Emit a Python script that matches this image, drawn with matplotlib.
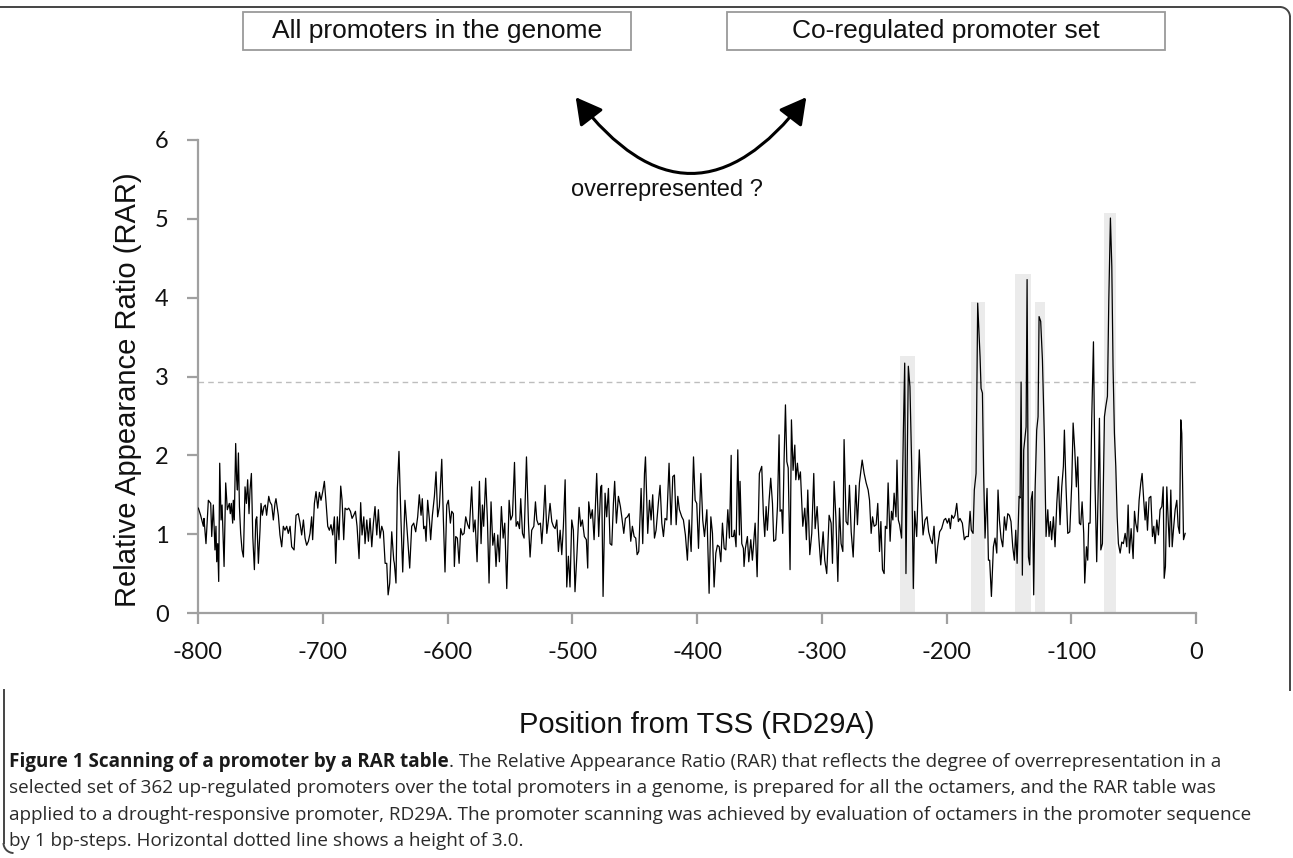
import matplotlib
matplotlib.use('Agg')
import matplotlib.pyplot as plt
from matplotlib.patches import FancyArrowPatch, Rectangle, Arc
from matplotlib.lines import Line2D

# ---------------- data ----------------
positions = [
    -799.7, -797.9, -795.7, -795.2, -793.6, -791.7, -789.8, -789.0, -787.7, -786.4,
    -785.6, -785.0, -784.2, -783.4, -782.6, -781.5, -780.7, -779.1, -777.8, -776.5,
    -774.9, -774.1, -773.3, -772.2, -771.7, -770.9, -769.8, -769.0, -768.4, -767.6,
    -766.8, -765.8, -764.7, -763.6, -762.3, -761.2, -760.2, -759.1, -758.3, -757.2,
    -756.1, -754.8, -753.7, -752.9, -751.6, -750.3, -749.5, -748.4, -747.1, -746.0,
    -745.0, -743.3, -742.3,
    -740.9, -739.6, -738.3, -737.5, -735.6, -734.3, -732.9, -731.6, -730.3, -728.9,
    -727.6, -726.2, -724.9, -723.0, -721.4, -719.6, -718.2, -716.9, -715.5, -714.2,
    -712.9, -711.5, -710.2, -708.9, -708.1, -706.7, -705.4, -704.0, -702.7, -701.4,
    -700.0, -698.7, -697.4, -696.0, -694.7, -693.4, -692.0, -690.7, -689.6, -688.3,
    -687.0, -685.6, -684.5, -683.2, -682.1, -680.5, -679.2, -677.8, -676.5, -675.2,
    -673.8, -672.5, -670.9, -669.6, -668.5, -667.1, -666.1, -664.7, -663.4, -662.1,
    -660.7, -659.4, -658.1, -656.7, -655.4, -654.1, -652.7, -651.4, -650.0, -648.7,
    -647.6, -646.3, -644.7, -643.1,
    -642.6, -641.3, -640.2, -638.9, -637.3, -635.9, -634.1, -632.2, -630.3, -628.7,
    -627.1, -625.5, -623.9, -622.6, -621.2, -620.2, -619.1, -618.0, -617.2, -615.9,
    -614.5, -613.5, -612.1, -610.5, -609.2, -607.9, -606.5, -604.6, -603.3, -602.0,
    -600.6, -599.3, -597.7, -596.6, -595.3, -594.5, -593.4, -592.1, -590.7, -589.4,
    -588.1, -586.7, -585.4, -583.8, -582.5, -580.6, -579.2, -577.9, -576.3, -574.4,
    -573.1, -572.0, -571.0, -569.4, -568.0, -566.7, -565.1, -563.7, -562.4, -561.1,
    -559.7, -558.4, -556.8, -555.4, -554.1, -552.5, -550.6, -549.3, -547.9, -546.3,
    -545.0, -543.7, -542.3, -541.3, -539.9, -538.6, -536.7, -535.1, -533.8, -532.5,
    -530.8, -529.5, -528.4, -527.1, -525.5, -524.4, -523.1, -521.8, -520.4, -519.1,
    -517.8, -516.4, -515.1, -513.7, -512.4, -511.1, -509.7, -508.4, -507.1, -505.7,
    -504.4, -503.1, -501.8, -500.4, -499.1, -497.8, -496.2, -494.5, -493.2, -491.9,
    -490.3, -488.7, -487.6, -486.8, -485.2, -483.9, -482.5, -480.4, -478.8, -477.2,
    -476.4, -475.3, -473.7, -472.4, -471.0, -469.7, -468.3, -467.0, -466.0, -464.6,
    -463.0, -461.4, -460.3, -458.7, -457.4, -455.8, -454.4, -453.1, -451.8, -450.4,
    -449.1, -448.0, -446.7, -444.8, -443.5, -442.1, -441.3, -439.5, -438.1, -436.8,
    -435.5, -434.1, -432.8, -430.9, -429.6, -428.2, -426.9, -425.6, -424.2, -422.4,
    -420.8, -419.4, -418.1, -416.7, -415.4, -414.1, -412.2, -410.9, -409.3, -407.7,
    -406.3, -404.7, -402.8, -401.5, -400.2, -398.8, -396.9, -395.4, -394.0, -392.1,
    -390.3, -388.9, -387.6, -386.3, -384.9, -383.6, -382.2, -380.9, -379.6, -378.2,
    -376.9, -375.3, -374.0, -372.6,
    -372.2, -370.8, -370.0, -368.7, -367.3, -366.0, -365.5, -364.1, -362.8, -362.3,
    -361.2, -359.6, -358.5, -356.9, -355.6, -353.4, -351.8, -350.0, -348.1, -346.8,
    -345.7, -344.6, -343.6, -342.2, -340.9, -339.5, -338.5, -336.9, -335.5, -334.2,
    -333.4, -332.1, -331.3, -330.2, -329.1, -328.0, -326.9, -325.4, -324.3, -323.0,
    -321.6, -320.8, -319.5, -318.4, -317.1, -316.3, -315.2, -313.6, -312.3, -311.2,
    -309.6, -308.0, -306.4, -305.3, -303.7, -302.4, -300.8, -298.9, -297.6, -296.0,
    -294.1, -292.5, -291.4, -290.1, -288.7, -287.1, -285.8, -284.5, -283.1, -282.1,
    -280.5, -279.1, -277.8, -276.4, -274.8, -272.7, -271.4, -269.8, -267.6, -266.0,
    -264.4, -262.8, -261.7, -260.4, -259.3, -258.0, -256.4, -255.1, -253.7, -252.6,
    -251.3, -250.0, -249.0, -247.8, -246.8, -245.2, -244.1, -243.0, -242.0,
    -240.5, -239.7, -238.6, -237.6, -236.0, -234.6, -233.5, -232.5, -230.6, -229.3,
    -227.9, -226.6, -225.5, -223.9, -221.8, -220.4, -218.8, -217.2, -215.6, -214.3,
    -212.7, -211.4, -210.0, -208.4, -207.1, -205.5, -203.9, -202.0, -200.7, -199.3,
    -198.0, -196.9, -195.8, -194.5, -193.2, -191.8, -190.5, -189.2, -187.3, -185.7,
    -184.3, -182.5, -181.1, -180.1, -178.7, -177.7, -176.3, -175.0, -173.1, -172.3,
    -171.2, -170.2, -169.1, -167.5, -166.4, -165.4, -164.0, -162.4, -161.1, -159.7,
    -158.7, -157.6, -156.3, -154.9, -153.6, -152.3, -150.9, -149.6, -148.3, -146.9,
    -145.6, -144.5, -143.4, -141.8, -141.0, -140.2, -139.2, -138.1, -137.0, -136.2,
    -135.4, -134.3, -133.3, -132.2, -131.1, -130.1, -129.0, -127.7, -126.6, -125.8,
    -124.5, -123.1, -121.5, -120.2, -118.8, -117.8,
    -116.7, -115.7, -114.3, -113.0, -111.6, -110.3, -109.0, -107.6, -106.3, -105.5,
    -104.2, -102.8, -101.2, -99.6, -98.5, -97.2, -95.9, -94.8, -93.5, -92.4,
    -91.3, -90.0, -89.2, -87.8, -86.8, -86.0, -84.9, -83.6, -82.2, -80.9,
    -79.6, -78.2, -77.4, -76.3, -75.0, -73.4, -72.3, -71.0, -69.9, -68.6,
    -67.5, -66.5, -65.4, -64.3, -63.2, -62.2, -60.8, -59.5, -58.2, -56.8,
    -55.5, -54.4, -53.4, -52.0, -50.4, -49.3, -48.3, -46.9, -45.6, -44.3,
    -43.2, -41.9, -40.8, -40.0, -38.9, -37.6, -36.2, -34.9, -33.8, -32.8,
    -31.4, -30.1, -28.8, -27.4, -26.3, -25.5, -24.5, -23.4, -22.3, -21.3,
    -20.2, -19.1, -18.1, -16.7, -15.4, -14.3, -13.2, -12.2, -11.4, -10.0,
    -8.7,
]

rar_values = [
    1.33, 1.24, 1.10, 1.20, 0.88, 1.43, 1.39, 0.97, 1.37, 0.80,
    1.10, 0.65, 0.88, 0.40, 1.90, 1.18, 1.37, 0.59, 1.65, 1.31,
    1.39, 1.26, 1.39, 1.14, 1.43, 1.18, 2.15, 1.69, 1.56, 2.03,
    1.35, 1.01, 0.80, 0.71, 1.60, 1.39, 1.69, 1.26, 1.56, 1.77,
    0.97, 0.55, 1.18, 1.22, 0.63, 1.05, 1.39, 1.24, 1.35, 1.37,
    1.24, 1.48, 1.41,
    1.37, 1.18, 1.39, 1.45, 1.24, 0.99, 0.84, 1.10, 1.05, 1.10,
    1.01, 1.10, 0.84, 0.80, 1.24, 1.26, 1.14, 0.99, 1.18, 0.95,
    0.86, 0.91, 1.01, 1.22, 0.93, 1.39, 1.54, 1.33, 1.53, 1.43,
    1.54, 1.67, 1.41, 1.10, 1.05, 1.12, 0.99, 1.22, 0.63, 1.22,
    0.93, 1.61, 1.43, 0.93, 1.33, 1.31, 1.33, 1.29, 1.20, 1.24,
    1.29, 1.10, 0.69, 1.40, 0.99, 1.22, 0.88, 1.18, 0.91, 1.20,
    0.84, 1.14, 1.35, 0.99, 1.31, 0.95, 1.10, 1.03, 0.63, 0.63,
    0.23, 0.38, 1.03, 0.67,
    0.63, 0.38, 1.58, 2.05, 1.18, 0.52, 1.43, 1.01, 0.57, 1.10,
    1.14, 1.03, 1.22, 1.50, 1.24, 1.45, 1.07, 1.10, 0.91, 1.43,
    1.18, 0.93, 1.24, 1.48, 1.79, 1.22, 1.35, 1.95, 1.18, 0.52,
    1.37, 1.43, 1.14, 1.29, 1.26, 0.59, 0.97, 0.95, 0.63, 1.07,
    0.99, 1.01, 1.22, 1.12, 1.07, 1.60, 1.03, 1.18, 0.65, 1.67,
    0.88, 1.37, 1.10, 1.71, 1.18, 0.38, 1.41, 0.86, 1.01, 0.59,
    0.99, 0.65, 1.35, 0.95, 1.14, 0.31, 1.43, 1.18, 1.24, 1.91,
    1.10, 1.16, 1.07, 1.45, 1.01, 0.95, 1.98, 1.14, 0.71, 1.05,
    1.10, 1.41, 1.18, 1.12, 1.14, 0.88, 1.20, 1.62, 1.01, 1.18,
    1.39, 1.16, 1.10, 1.07, 1.18, 0.78, 1.05, 0.74, 1.10, 1.69,
    0.33, 0.72, 0.33, 1.18, 1.05, 0.27, 0.76, 1.34, 1.10, 1.18,
    0.97, 0.93, 0.57, 1.41, 1.20, 1.31, 0.93, 1.77, 0.97, 1.60,
    1.62, 0.21, 1.52, 1.22, 1.58, 0.88, 0.86, 1.39, 1.67, 1.14,
    1.48, 1.35, 1.22, 1.01, 1.20, 1.22, 1.26, 0.91, 1.10, 0.97,
    0.95, 0.74, 0.78, 1.58, 0.88, 1.77, 1.98, 1.01, 1.43, 1.18,
    1.50, 0.95, 1.05, 1.41, 1.62, 1.14, 0.97, 1.20, 1.18, 1.90,
    1.12, 1.73, 1.75, 1.12, 1.48, 1.31, 1.22, 1.18, 0.99, 0.67,
    1.18, 0.78, 1.98, 1.43, 1.39, 0.82, 1.77, 1.18, 0.97, 1.31,
    0.25, 1.22, 1.01, 0.33, 0.76, 0.86, 0.84, 0.65, 1.14, 0.82,
    0.80, 1.31, 0.95, 2.00,
    0.97, 0.97, 1.05, 0.84, 2.07, 0.99, 1.67, 0.88, 0.82, 0.59,
    0.82, 0.97, 0.65, 0.93, 0.67, 1.14, 0.46, 1.77, 1.86, 1.26,
    0.97, 1.35, 1.05, 1.43, 1.71, 1.39, 0.91, 0.93, 1.35, 2.26,
    1.29, 1.31, 1.01, 1.94, 2.64, 1.92, 1.84, 0.55, 2.45, 1.81,
    2.13, 1.69, 1.90, 1.69, 1.79, 1.50, 1.10, 1.33, 0.93, 1.56,
    0.74, 1.01, 1.77, 1.07, 1.35, 0.97, 0.61, 1.03, 0.67, 0.50,
    1.24, 1.14, 0.63, 1.67, 1.22, 0.40, 1.33, 0.88, 0.78, 2.20,
    1.16, 1.12, 1.62, 1.03, 0.71, 1.62, 1.12, 1.65, 1.94, 1.77,
    1.65, 1.56, 1.43, 1.01, 1.22, 1.10, 1.12, 1.39, 0.78, 1.16,
    0.55, 0.50, 1.10, 1.07, 1.65, 0.91, 1.29, 1.18, 1.52,
    1.22, 1.94, 1.18, 1.12, 0.95, 2.28, 3.17, 0.50, 3.13, 2.87,
    1.86, 0.31, 1.29, 0.97, 2.07, 1.52, 0.99, 1.18, 1.22, 1.03,
    0.93, 0.88, 1.10, 0.63, 0.84, 1.03, 1.07, 1.18, 1.20, 1.14,
    1.20, 1.07, 1.24, 1.20, 1.24, 1.39, 1.16, 1.20, 1.14, 0.93,
    0.97, 0.97, 1.29, 1.05, 1.01, 1.56, 1.77, 3.93, 3.25, 2.85,
    2.79, 1.73, 0.95, 1.58, 0.67, 0.67, 0.21, 0.84, 0.95, 0.76,
    1.56, 1.18, 0.95, 0.84, 1.22, 1.05, 1.26, 1.24, 1.16, 0.84,
    0.67, 1.05, 0.63, 1.48, 1.46, 2.93, 0.48, 2.07, 2.24, 2.36,
    4.23, 0.71, 0.61, 1.43, 1.54, 0.23, 1.56, 2.32, 2.49, 3.76,
    3.70, 3.21, 2.19, 0.97, 1.31, 0.97,
    1.16, 0.93, 1.22, 0.84, 1.39, 1.73, 1.12, 1.60, 1.86, 2.32,
    1.60, 1.01, 1.03, 1.64, 2.41, 2.07, 1.60, 1.98, 1.14, 1.12,
    1.41, 1.01, 0.38, 0.84, 0.67, 1.14, 1.14, 2.45, 3.44, 1.60,
    0.65, 1.73, 2.47, 0.80, 0.88, 2.49, 2.62, 2.75, 3.97, 5.01,
    4.40, 3.13, 2.28, 1.86, 1.22, 0.88, 0.76, 0.90, 0.88, 1.01,
    0.84, 1.37, 0.76, 1.07, 0.69, 1.29, 1.14, 1.03, 1.43, 1.64,
    1.77, 1.43, 1.18, 1.41, 1.05, 1.46, 1.48, 0.97, 1.10, 0.88,
    1.18, 0.99, 1.31, 1.35, 1.60, 0.44, 0.59, 1.60, 1.18, 0.84,
    1.56, 0.84, 1.05, 1.31, 1.43, 1.10, 1.01, 2.45, 2.28, 0.93,
    1.01,
]

band_start = [-237, -180, -145, -129, -74]
band_end = [-225, -169, -132, -121, -64]
band_top = [3.26, 3.95, 4.30, 3.95, 5.07]
threshold_line = 2.93

x_ticks = [-800, -700, -600, -500, -400, -300, -200, -100, 0]
y_ticks = [0, 1, 2, 3, 4, 5, 6]

box_left_label = "All promoters in the genome"
box_right_label = "Co-regulated promoter set"
arrow_label = "overrepresented ?"
x_label = "Position from TSS (RD29A)"
y_label = "Relative Appearance Ratio (RAR)"
caption_bold = "Figure 1 Scanning of a promoter by a RAR table"
caption_lines = [
    ". The Relative Appearance Ratio (RAR) that reflects the degree of overrepresentation in a",
    "selected set of 362 up-regulated promoters over the total promoters in a genome, is prepared for all the octamers, and the RAR table was",
    "applied to a drought-responsive promoter, RD29A. The promoter scanning was achieved by evaluation of octamers in the promoter sequence",
    "by 1 bp-steps. Horizontal dotted line shows a height of 3.0.",
]

SANS = 'Liberation Sans'
TICKF = 'Lato'
CAPF = 'Open Sans'

W, H = 1293, 858
fig = plt.figure(figsize=(W / 100, H / 100), dpi=100)


def fx(px):
    return px / W


def fy(py):
    return 1 - py / H


# ---------------- axes ----------------
ax = fig.add_axes([fx(198), fy(613), fx(1196) - fx(198), fy(140) - fy(613)])
ax.set_xlim(-800, 0)
ax.set_ylim(0, 6)

centers = [(s + e) / 2 for s, e in zip(band_start, band_end)]
widths = [e - s for s, e in zip(band_start, band_end)]
ax.bar(centers, band_top, width=widths, color='#ebebeb', zorder=1, linewidth=0)
ax.axhline(threshold_line, color='#bdbdbd', lw=1.0, ls=(0, (4, 3)), zorder=2)
ax.plot(positions, rar_values, color='black', lw=0.9, zorder=3)

for s in ['top', 'right']:
    ax.spines[s].set_visible(False)
for s in ['left', 'bottom']:
    ax.spines[s].set_color('#a0a0a0')
    ax.spines[s].set_linewidth(1.6)
ax.set_xticks(x_ticks)
ax.set_yticks(y_ticks)
ax.set_xticklabels([str(v) for v in x_ticks], fontfamily=TICKF, fontsize=17)
ax.set_yticklabels([str(v) for v in y_ticks], fontfamily=TICKF, fontsize=17)
ax.tick_params(axis='both', colors='#a0a0a0', labelcolor='#111111', length=8, width=1.6,
               direction='out')
ax.tick_params(axis='y', pad=13)
ax.tick_params(axis='x', pad=13)
ax.set_facecolor('none')

fig.text(fx(128), fy(390), y_label, rotation=90, ha='center', va='center',
         fontfamily=SANS, fontsize=21, color='#111111')
fig.text(fx(697), fy(725), x_label, ha='center', va='center',
         fontfamily=SANS, fontsize=21, color='#111111')

# ---------------- top diagram ----------------
for (x0, x1), lab in [((243, 631), box_left_label), ((727, 1165), box_right_label)]:
    fig.patches.append(Rectangle((fx(x0), fy(50)), fx(x1) - fx(x0), fy(12) - fy(50),
                                 transform=fig.transFigure, facecolor='white',
                                 edgecolor='#9a9a9a', lw=1.3))
    fig.text(fx((x0 + x1) / 2), fy(31), lab, ha='center', va='center',
             fontfamily=SANS, fontsize=19, color='#111111')

arr = FancyArrowPatch((fx(574), fy(95)), (fx(808), fy(95)), transform=fig.transFigure,
                      connectionstyle='arc3,rad=0.66',
                      arrowstyle='<|-|>,head_length=10,head_width=5.5',
                      color='black', lw=2.2, mutation_scale=1.6)
fig.patches.append(arr)
fig.text(fx(667), fy(190), arrow_label, ha='center', va='center',
         fontfamily=SANS, fontsize=17, color='#111111')

# ---------------- frame ----------------
fc = '#444444'
fig.lines.append(Line2D([fx(0), fx(1280)], [fy(7), fy(7)], transform=fig.transFigure, color=fc, lw=1.4))
fig.patches.append(Arc((fx(1280), fy(17)), 2 * 10 / W, 2 * 10 / H, theta1=0, theta2=90,
                       transform=fig.transFigure, color=fc, lw=1.4))
fig.lines.append(Line2D([fx(1290), fx(1290)], [fy(17), fy(690)], transform=fig.transFigure, color=fc, lw=1.4))
fig.lines.append(Line2D([fx(3.5), fx(3.5)], [fy(690), fy(843)], transform=fig.transFigure, color=fc, lw=1.4))
fig.patches.append(Arc((fx(13.5), fy(843)), 2 * 10 / W, 2 * 10 / H, theta1=180, theta2=270,
                       transform=fig.transFigure, color=fc, lw=1.4))

# ---------------- caption ----------------
cap_base = [767, 793, 820, 846]
x_start, x_end_line3 = 9, 1255


def draw_caption(size):
    objs = []
    tb = fig.text(fx(x_start), fy(cap_base[0]), caption_bold, ha='left', va='baseline',
                  fontfamily=CAPF, fontweight='bold', fontsize=size, color='#1a1a1a')
    objs.append(tb)
    fig.canvas.draw()
    bb = tb.get_window_extent()
    objs.append(fig.text(bb.x1 / W, fy(cap_base[0]), caption_lines[0], ha='left',
                         va='baseline', fontfamily=CAPF, fontsize=size, color='#2a2a2a'))
    for yy, line in zip(cap_base[1:], caption_lines[1:]):
        objs.append(fig.text(fx(x_start), fy(yy), line, ha='left', va='baseline',
                             fontfamily=CAPF, fontsize=size, color='#2a2a2a'))
    fig.canvas.draw()
    widest = max(o.get_window_extent().x1 for o in objs)
    return objs, widest


size0 = 14.0
objs, xe = draw_caption(size0)
size1 = size0 * (x_end_line3 - x_start) / (xe - x_start)
for o in objs:
    o.remove()
draw_caption(size1)

fig.savefig('out.png', dpi=100)
